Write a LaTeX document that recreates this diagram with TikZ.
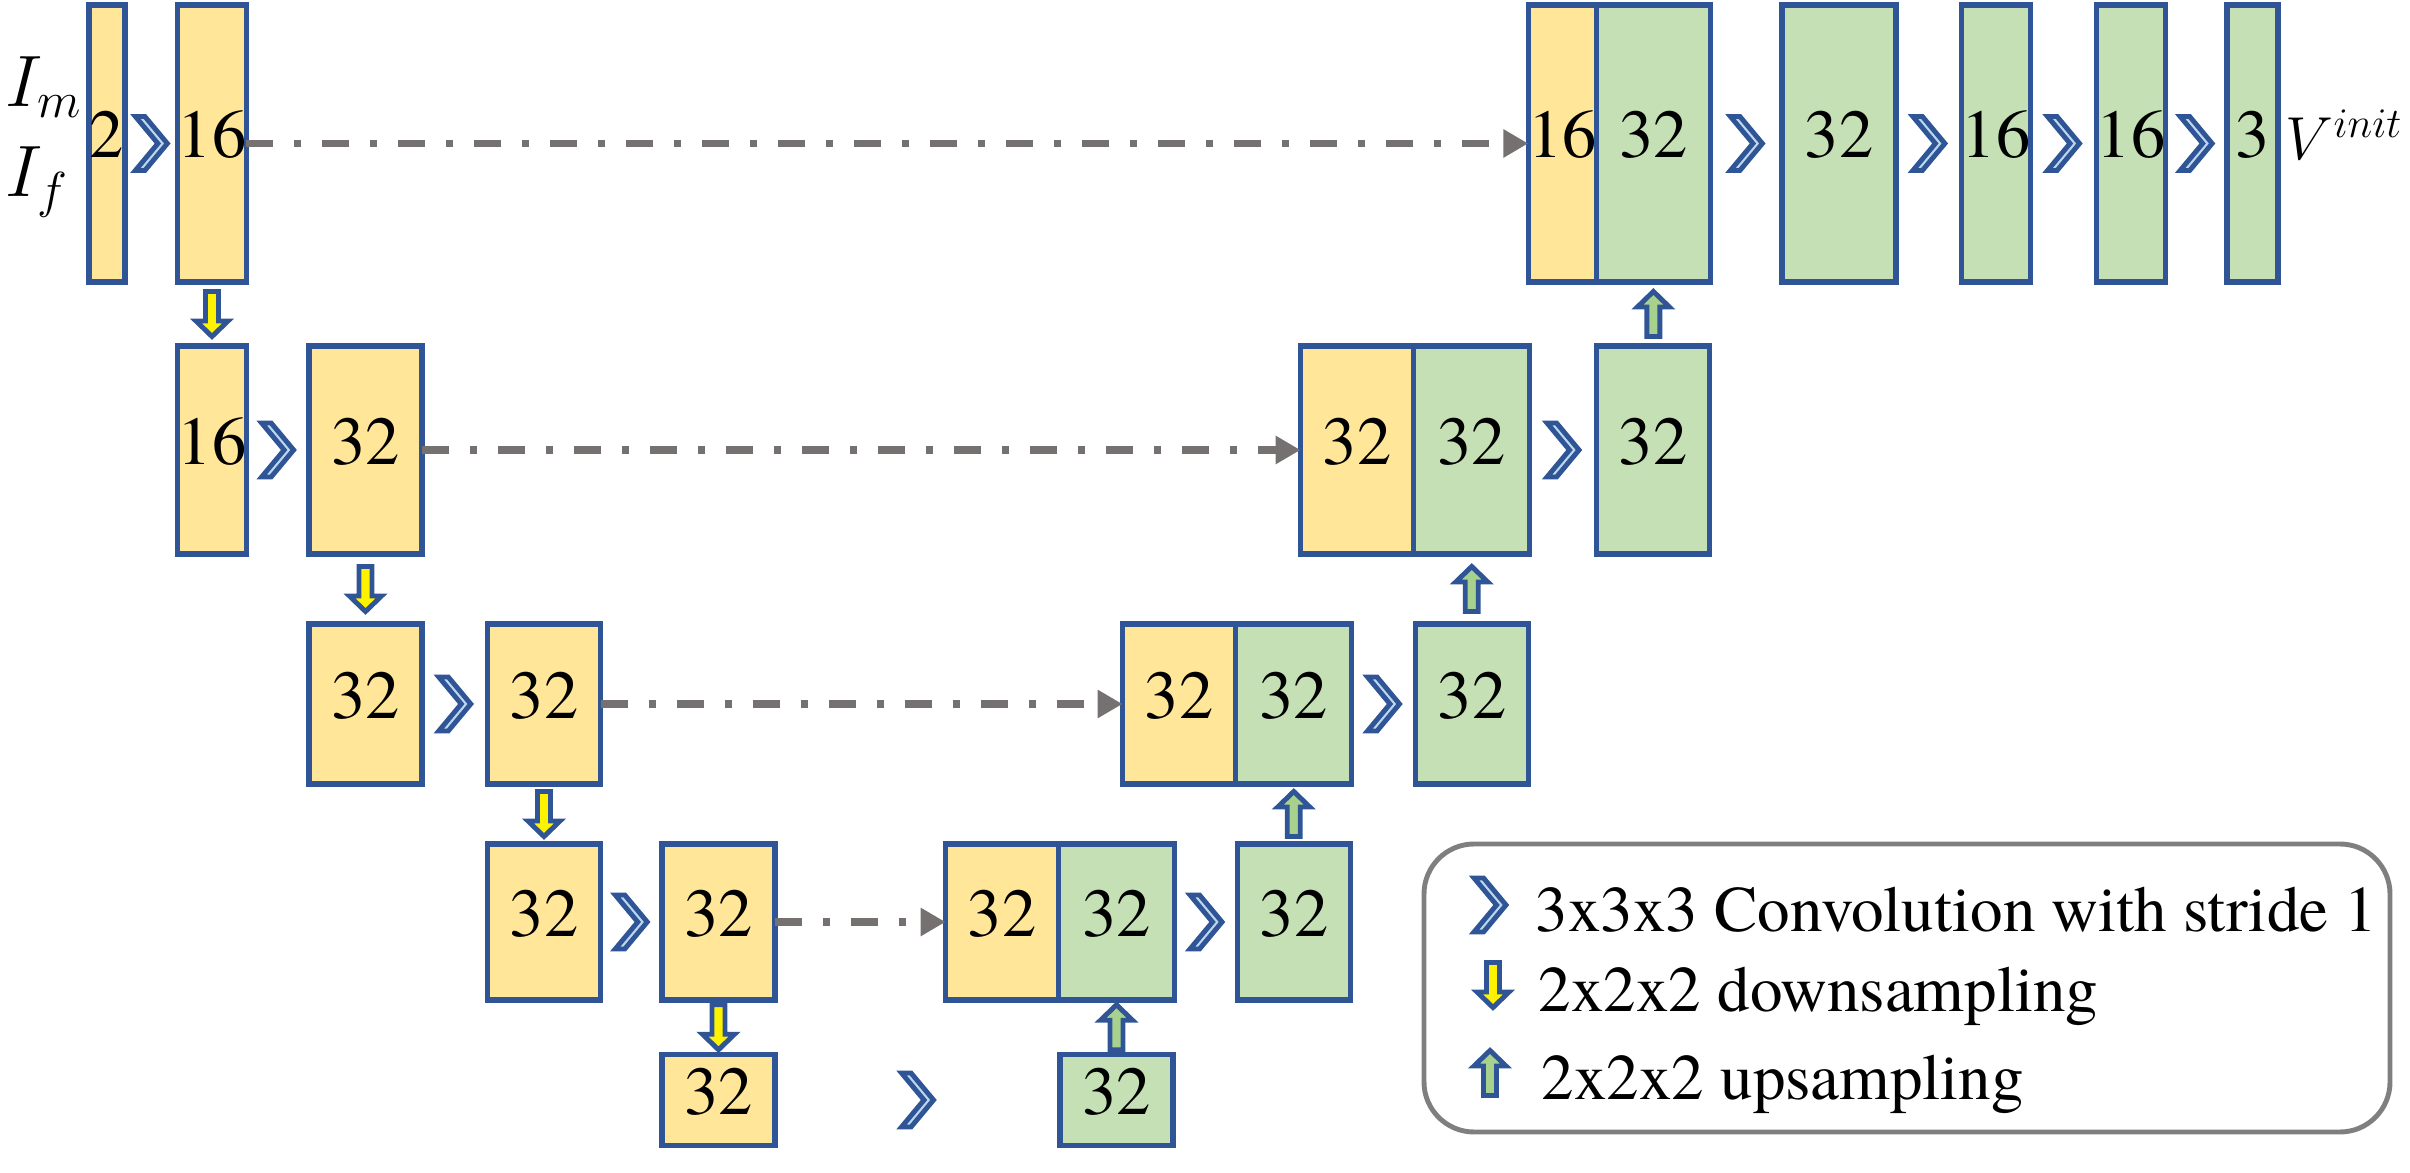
\documentclass[tikz,border=0pt]{standalone}
\usepackage{fontspec}
\setmainfont{texgyretermes}[Extension=.otf, UprightFont=*-regular, BoldFont=*-bold,
  ItalicFont=*-italic, BoldItalicFont=*-bolditalic]
\newfontfamily\timesfont{texgyretermes}[Extension=.otf, UprightFont=*-regular]
\usetikzlibrary{calc,arrows.meta}

\definecolor{boxblue}{HTML}{2F5597}
\definecolor{encyellow}{HTML}{FFE699}
\definecolor{decgreen}{HTML}{C5E0B4}
\definecolor{convfill}{HTML}{BDD7EE}
\definecolor{upfill}{HTML}{A9D18E}
\definecolor{skipgray}{HTML}{767171}
\definecolor{legendgray}{HTML}{7F7F7F}

\tikzset{
  block/.style={draw=boxblue, line width=1.5pt, inner sep=0pt, outer sep=0pt,
    minimum width=1.13cm, text depth=0.18cm, font=\timesfont\fontsize{19.5}{19.5}\selectfont},
  enc/.style={block, fill=encyellow},
  dec/.style={block, fill=decgreen},
  lvl0/.style={minimum height=2.77cm},
  lvl1/.style={minimum height=2.08cm},
  lvl2/.style={minimum height=1.60cm},
  lvl3/.style={minimum height=1.56cm},
  lvl4/.style={minimum height=0.91cm},
  skip/.style={draw=skipgray, line width=2pt,
    dash pattern=on 0.27cm off 0.21cm on 0.07cm off 0.21cm,
    -{Triangle[length=0.25cm,width=0.27cm]}},
  legtext/.style={anchor=base west, inner sep=0pt, font=\timesfont\fontsize{18.5}{18.5}\selectfont},
  mathlabel/.style={anchor=base west, inner sep=0pt, font=\fontsize{20}{20}\selectfont},
  conv/.pic={
    \filldraw[draw=boxblue, fill=convfill, line width=1.4pt]
      (-0.16,0.27) -- (-0.065,0.27) -- (0.16,0) -- (-0.065,-0.27)
      -- (-0.16,-0.27) -- (0.065,0) -- cycle;},
  dnsample/.pic={
    \filldraw[draw=boxblue, fill=yellow, line width=1.4pt]
      (-0.065,0.225) -- (0.065,0.225) -- (0.065,-0.07) -- (0.16,-0.07)
      -- (0,-0.225) -- (-0.16,-0.07) -- (-0.065,-0.07) -- cycle;},
  upsample/.pic={
    \filldraw[draw=boxblue, fill=upfill, line width=1.4pt]
      (-0.065,-0.225) -- (0.065,-0.225) -- (0.065,0.07) -- (0.16,0.07)
      -- (0,0.225) -- (-0.16,0.07) -- (-0.065,0.07) -- cycle;}
}

\begin{document}
\begin{tikzpicture}
    \useasboundingbox (0,0) rectangle (24.10,-11.73);

    % inputs and output
    \node[mathlabel] (im) at (0.05,-1.07) {$I_m$};
    \node[mathlabel] (if) at (0.05,-1.97) {$I_f$};

    % level 0
    \node[enc, lvl0, minimum width=0.36cm] (e0a) at (1.07,-1.435) {2};
    \node[enc, lvl0, minimum width=0.68cm] (e0b) at (2.12,-1.435) {16};
    \node[enc, lvl0, minimum width=0.63cm] (c0y) at (15.625,-1.435) {16};
    \node[dec, lvl0, minimum width=1.14cm, anchor=west] (c0g) at (c0y.east) {32};
    \node[dec, lvl0, minimum width=1.14cm] (d0a) at (18.39,-1.435) {32};
    \node[dec, lvl0, minimum width=0.68cm] (d0b) at (19.96,-1.435) {16};
    \node[dec, lvl0, minimum width=0.68cm] (d0c) at (21.31,-1.435) {16};
    \node[dec, lvl0, minimum width=0.51cm] (d0d) at (22.525,-1.435) {3};
    \node[mathlabel, font=\fontsize{18}{18}\selectfont] (vinit) at (22.85,-1.60) {$V^{init}$};

    % level 1
    \node[enc, lvl1, minimum width=0.68cm] (e1a) at (2.12,-4.50) {16};
    \node[enc, lvl1] (e1b) at (3.655,-4.50) {32};
    \node[enc, lvl1] (c1y) at (13.57,-4.50) {32};
    \node[dec, lvl1, minimum width=1.16cm, anchor=west] (c1g) at (c1y.east) {32};
    \node[dec, lvl1] (d1a) at (16.53,-4.50) {32};

    % level 2
    \node[enc, lvl2] (e2a) at (3.655,-7.04) {32};
    \node[enc, lvl2] (e2b) at (5.44,-7.04) {32};
    \node[enc, lvl2] (c2y) at (11.79,-7.04) {32};
    \node[dec, lvl2, minimum width=1.16cm, anchor=west] (c2g) at (c2y.east) {32};
    \node[dec, lvl2] (d2a) at (14.72,-7.04) {32};

    % level 3
    \node[enc, lvl3] (e3a) at (5.44,-9.22) {32};
    \node[enc, lvl3] (e3b) at (7.185,-9.22) {32};
    \node[enc, lvl3] (c3y) at (10.02,-9.22) {32};
    \node[dec, lvl3, minimum width=1.16cm, anchor=west] (c3g) at (c3y.east) {32};
    \node[dec, lvl3] (d3a) at (12.94,-9.22) {32};

    % level 4
    \node[enc, lvl4] (e4a) at (7.185,-11.00) {32};
    \node[dec, lvl4] (d4a) at (11.165,-11.00) {32};

    % skip connections
    \draw[skip] (e0b.east) -- (c0y.west);
    \draw[skip] (e1b.east) -- (c1y.west);
    \draw[skip] (e2b.east) -- (c2y.west);
    \draw[skip] (e3b.east) -- (c3y.west);

    % convolutions
    \pic at ($(e0a.east)!0.5!(e0b.west)$) {conv};
    \pic at ($(c0g.east)!0.5!(d0a.west)$) {conv};
    \pic at ($(d0a.east)!0.5!(d0b.west)$) {conv};
    \pic at ($(d0b.east)!0.5!(d0c.west)$) {conv};
    \pic at ($(d0c.east)!0.5!(d0d.west)$) {conv};
    \pic at ($(e1a.east)!0.5!(e1b.west)$) {conv};
    \pic at ($(c1g.east)!0.5!(d1a.west)$) {conv};
    \pic at ($(e2a.east)!0.5!(e2b.west)$) {conv};
    \pic at ($(c2g.east)!0.5!(d2a.west)$) {conv};
    \pic at ($(e3a.east)!0.5!(e3b.west)$) {conv};
    \pic at ($(c3g.east)!0.5!(d3a.west)$) {conv};
    \pic at ($(e4a.east)!0.5!(d4a.west)$) {conv};

    % down and up sampling
    \pic at ($(e0b.south)!0.5!(e1a.north)$) {dnsample};
    \pic at ($(e1b.south)!0.5!(e2a.north)$) {dnsample};
    \pic at ($(e2b.south)!0.5!(e3a.north)$) {dnsample};
    \pic at ($(e3b.south)!0.5!(e4a.north)$) {dnsample};
    \pic at ($(d4a.north)!0.5!(c3g.south)$) {upsample};
    \pic at ($(d3a.north)!0.5!(c2g.south)$) {upsample};
    \pic at ($(d2a.north)!0.5!(c1g.south)$) {upsample};
    \pic at ($(d1a.north)!0.5!(c0g.south)$) {upsample};

    % legend
    \node[draw=legendgray, line width=1.4pt, rounded corners=0.5cm,
      minimum width=9.66cm, minimum height=2.88cm] (legend) at (19.07,-9.88) {};
    \pic at (14.90,-9.05) {conv};
    \node[legtext] (lconv) at (15.35,-9.32) {3x3x3 Convolution with stride 1};
    \pic at (14.93,-9.85) {dnsample};
    \node[legtext] (ldown) at (15.38,-10.12) {2x2x2 downsampling};
    \pic at (14.90,-10.73) {upsample};
    \node[legtext] (lup) at (15.41,-11.00) {2x2x2 upsampling};
\end{tikzpicture}
\end{document}
